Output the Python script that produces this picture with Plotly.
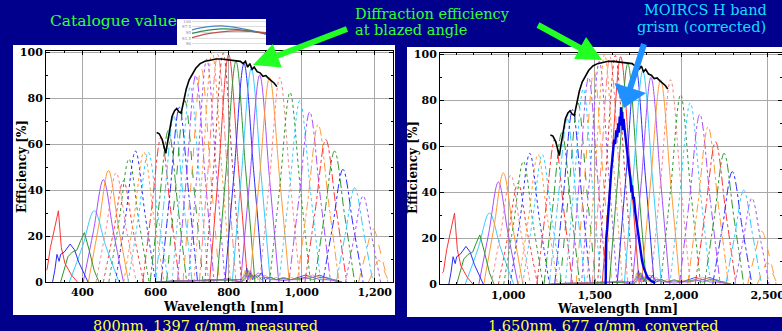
import plotly.graph_objects as go

W, H = 782, 331
NAVY = '#00008c'
FONT = 'DejaVu Serif'

# ---------------- data (left panel wavelengths in nm, efficiency in %) ----------------
RED, BLUE, GREEN, CYAN = '#ff3333', '#2a2aff', '#2e962e', '#33ccff'
PURPLE, ORANGE, PINK, BROWN = '#a64dff', '#ff9933', '#ff8080', '#cc3333'

peak_nm = [432, 457, 471, 492, 512, 527, 545, 568, 580, 615, 635, 650, 665, 680, 695,
           710, 725, 740, 755, 770, 785, 800, 820, 842, 862, 885, 912, 940, 968, 995,
           1022, 1045, 1066, 1090, 1113, 1145, 1168, 1196, 1211]
peak_eff = [31, 44.5, 48.5, 47.5, 44, 53.5, 57, 56.5, 56.5, 63, 66, 72, 76, 79, 85,
            90, 93, 97, 100, 99, 99.5, 99, 96, 95, 93, 90, 89, 89, 82.5, 79,
            74, 68.5, 62, 57, 49, 41, 37.5, 23, 9.5]
hwhm_nm = [32, 27, 27, 27, 27, 27, 27, 27, 27, 26, 26, 26, 26, 26, 26,
           26, 26, 26, 26, 26, 26, 27, 27, 27, 27, 27, 28, 28, 28, 29,
           29, 29, 29, 28, 28, 26, 25, 22, 15]
foot_nm = [68, 55, 55, 55, 55, 55, 55, 55, 55, 50, 50, 50, 50, 50, 50,
           50, 50, 50, 50, 50, 50, 52, 52, 52, 52, 52, 54, 55, 56, 57,
           57, 57, 57, 55, 55, 50, 48, 40, 28]
curve_color = [CYAN, PURPLE, ORANGE, PINK, RED, GREEN, BLUE, ORANGE, CYAN, RED, GREEN, CYAN, BLUE, GREEN, CYAN,
               PURPLE, ORANGE, PURPLE, ORANGE, PINK, BROWN, RED, GREEN, BLUE, CYAN, PURPLE, ORANGE, PINK, GREEN, CYAN,
               PURPLE, ORANGE, RED, GREEN, BLUE, CYAN, PURPLE, ORANGE, ORANGE]
curve_dash = ['solid', 'solid', 'solid', 'dot', 'dot', 'dot', 'dot', 'dot', 'dot', 'dashdot', 'dashdot', 'dashdot', 'dashdot', 'dash', 'dot',
              'dashdot', 'dash', 'dot', 'dot', 'dashdot', 'dot', 'solid', 'solid', 'solid', 'solid', 'solid', 'solid', 'dot', 'dot', 'dot',
              'dashdot', 'dashdot', 'dashdot', 'dashdot', 'dashdot', 'dashdot', 'dot', 'dash', 'dash']

# first three (short wavelength) orders, irregular shapes
red1_nm = [300, 303, 312, 325, 334, 342, 352, 370, 386]
red1_eff = [5, 5.5, 15, 25, 31, 15, 8, 3, 0]
blue1_nm = [318, 324, 330, 336, 340, 350, 366, 378, 390, 405, 415]
blue1_eff = [0, 5, 12, 9, 12, 13, 16.5, 14, 8.5, 3, 0]
green1_nm = [340, 350, 360, 372, 385, 395, 405, 418, 432, 445]
green1_eff = [0, 6, 11, 13, 14, 18, 21.5, 14, 5, 0]

# efficiency at blazed angle (black)
blaze_nm = [603, 610, 618, 624, 628, 632, 638, 645, 652, 658, 664, 670, 676, 684, 692,
            700, 710, 722, 735, 750, 765, 780, 795, 810, 822, 832, 840, 846, 852, 858,
            864, 870, 878, 886, 894, 902, 910, 918, 925, 932]
blaze_eff = [65, 64.5, 62, 57.5, 56, 60, 66, 72, 74.5, 75.5, 74, 73.5, 78, 84, 88,
             90.5, 93, 95, 96, 96.5, 97, 97, 96.8, 96.5, 96.2, 96, 95, 96, 93.5, 95,
             92.5, 93.5, 91.5, 91, 89.5, 89.8, 88.5, 87.5, 86.5, 85]

# low-level noise at the bottom
noise_nm = [600, 650, 700, 750, 800, 835, 845, 850, 855, 860, 865, 870, 880, 890, 900,
            915, 930, 950, 970, 990, 1010, 1030, 1050, 1070, 1090, 1110]
noise_a = [0, 0.5, 0.5, 1, 1, 1, 3, 6, 2, 4, 1, 3, 2, 4, 1, 2, 1, 1.5, 1, 2, 3, 2, 3, 1.5, 1, 0]
noise_b = [0, 0.3, 0.8, 0.6, 1.2, 0, 5, 2, 4, 1, 3, 4, 1, 2, 3, 1, 2, 1, 2, 1, 2, 3, 2, 1, 1, 0]
noise_c = [0, 0.4, 0.4, 0.8, 0.8, 0, 2, 4, 5, 2, 3, 1, 3, 1, 2, 2, 1, 2, 1, 1.5, 2, 1, 2, 2, 0.5, 0]
noise_d = [0, 0.2, 0.6, 0.4, 1.5, 0, 1, 3, 1, 5, 2, 2, 4, 3, 2, 1, 1, 0.5, 1, 1, 1.5, 2, 1, 1, 0.5, 0]
noise_colors = [BLUE, ORANGE, GREEN, PURPLE]

# MOIRCS H band grism (right panel, nm)
moircs_nm = [1563, 1565, 1567, 1572, 1580, 1588, 1596, 1605, 1612, 1618, 1624, 1630, 1636, 1640, 1644,
             1648, 1652, 1655, 1659, 1663, 1667, 1672, 1678, 1687, 1697, 1706, 1712, 1716, 1722, 1726,
             1735, 1745, 1755, 1764, 1774, 1784, 1795, 1805, 1825, 1850]
moircs_eff = [0, 12, 20, 24, 33, 44, 50, 57, 63, 61, 67, 64, 70, 66, 73, 69, 77, 70, 75, 67, 72, 68, 63, 58,
              51, 46, 40, 43, 37, 38, 31, 25, 19, 14, 10, 7, 4.5, 3, 1.5, 0.5]

CONVERT = 1650 / 800  # 800 nm grating converted to 1650 nm

# catalogue thumbnail curves
cat_x = [0, 20, 40, 60, 80, 100]
cat_blue = [96.2, 97.5, 97.9, 97.2, 95.9, 94.2]
cat_green = [94.6, 95.9, 96.6, 96.4, 95.5, 94.5]
cat_red = [92.7, 94.4, 95.3, 95.7, 95.5, 94.9]

# ---------------- figure ----------------
fig = go.Figure()


def add_panel(xa, ya, k):
    for i in range(len(peak_nm)):
        p, hw, fw, h = peak_nm[i], hwhm_nm[i], foot_nm[i], peak_eff[i]
        fig.add_trace(go.Scatter(
            x=[(p - fw) * k, (p - hw) * k, p * k, (p + hw) * k, (p + fw) * k],
            y=[0, h / 2, h, h / 2, 0],
            mode='lines', line=dict(color=curve_color[i], dash=curve_dash[i], width=1,
                                    shape='spline', smoothing=1.0),
            xaxis=xa, yaxis=ya, showlegend=False, hoverinfo='skip'))
    for xs, ys, c in [(red1_nm, red1_eff, RED), (blue1_nm, blue1_eff, BLUE), (green1_nm, green1_eff, GREEN)]:
        fig.add_trace(go.Scatter(x=[v * k for v in xs], y=ys, mode='lines',
                                 line=dict(color=c, width=1), xaxis=xa, yaxis=ya,
                                 showlegend=False, hoverinfo='skip'))
    for ys, c in zip([noise_a, noise_b, noise_c, noise_d], noise_colors):
        fig.add_trace(go.Scatter(x=[v * k for v in noise_nm], y=ys, mode='lines',
                                 line=dict(color=c, width=0.8), xaxis=xa, yaxis=ya,
                                 showlegend=False, hoverinfo='skip'))
    fig.add_trace(go.Scatter(x=[v * k for v in blaze_nm], y=blaze_eff, mode='lines',
                             line=dict(color='black', width=1.6), xaxis=xa, yaxis=ya,
                             showlegend=False, hoverinfo='skip'))


add_panel('x', 'y', 1.0)
add_panel('x2', 'y2', CONVERT)
fig.add_trace(go.Scatter(x=moircs_nm, y=moircs_eff, mode='lines',
                         line=dict(color='#0000e6', width=2.4), xaxis='x2', yaxis='y2',
                         showlegend=False, hoverinfo='skip'))

for ys, c in [(cat_blue, '#4a86c8'), (cat_green, '#2e8b57'), (cat_red, '#c0504d')]:
    fig.add_trace(go.Scatter(x=cat_x, y=ys, mode='lines', line=dict(color=c, width=1.3, shape='spline'),
                             xaxis='x3', yaxis='y3', showlegend=False, hoverinfo='skip'))


def px(x):
    return x / W


def py(y):
    return 1 - y / H


tickfont = dict(family=FONT, size=11, color='black', weight='bold')
common_x = dict(showline=True, linecolor='black', linewidth=1, mirror='ticks', ticks='inside',
                ticklen=4, tickcolor='black', showgrid=True, gridcolor='#a8a8a8', gridwidth=1,
                zeroline=False, tickfont=tickfont, tickformat=',', automargin=False,
                ticklabeloverflow='allow')
common_y = dict(common_x, range=[0, 100.5], dtick=20,
                minor=dict(ticks='inside', ticklen=2, dtick=10, tickcolor='black'))

layout = dict(
    width=W, height=H, margin=dict(l=0, r=0, t=0, b=0, pad=0), autosize=False,
    font=dict(family=FONT),
    paper_bgcolor=NAVY, plot_bgcolor='white', showlegend=False,
    xaxis=dict(common_x, domain=[px(46), px(393)], range=[300, 1250], dtick=200,
               minor=dict(ticks='inside', ticklen=2, dtick=50, tickcolor='black'), anchor='y'),
    yaxis=dict(common_y, domain=[py(282), py(51)], anchor='x'),
    xaxis2=dict(common_x, domain=[px(440), 1.0], range=[605, 2583], dtick=500,
                minor=dict(ticks='inside', ticklen=2, dtick=100, tickcolor='black'), anchor='y2'),
    yaxis2=dict(common_y, domain=[py(284.3), py(53.3)], anchor='x2'),
    xaxis3=dict(domain=[px(192), px(266)], range=[0, 100], showgrid=False, showticklabels=False,
                zeroline=False, anchor='y3', automargin=False),
    yaxis3=dict(domain=[py(46), py(19)], range=[89, 101], dtick=2.5, gridcolor='#dddddd',
                gridwidth=0.6, zeroline=False, tickfont=dict(size=4, color='#888888'),
                ticks='', anchor='x3', automargin=False),
)
fig.update_layout(**layout)

shapes = [
    dict(type='rect', xref='paper', yref='paper', x0=px(13), x1=px(395), y0=py(315), y1=py(45),
         fillcolor='white', line=dict(width=0), layer='below'),
    dict(type='rect', xref='paper', yref='paper', x0=px(407), x1=px(782), y0=py(317), y1=py(47),
         fillcolor='white', line=dict(width=0), layer='below'),
    dict(type='rect', xref='paper', yref='paper', x0=px(177), x1=px(266), y0=py(46), y1=py(19),
         fillcolor='white', line=dict(width=0), layer='below'),
]


def arrow(x0, y0, x1, y1, head_len, head_half, shaft_half, color):
    dx, dy = x1 - x0, y1 - y0
    L = (dx * dx + dy * dy) ** 0.5
    ux, uy = dx / L, dy / L
    nx, ny = -uy, ux
    bx, by = x1 - head_len * ux, y1 - head_len * uy
    pts = [(x0 + shaft_half * nx, y0 + shaft_half * ny),
           (bx + shaft_half * nx, by + shaft_half * ny),
           (bx + head_half * nx, by + head_half * ny),
           (x1, y1),
           (bx - head_half * nx, by - head_half * ny),
           (bx - shaft_half * nx, by - shaft_half * ny),
           (x0 - shaft_half * nx, y0 - shaft_half * ny)]
    path = 'M ' + ' L '.join(f'{px(a):.5f},{py(b):.5f}' for a, b in pts) + ' Z'
    return dict(type='path', xref='paper', yref='paper', path=path, fillcolor=color,
                line=dict(width=0), layer='above')


shapes.append(arrow(347, 29, 253, 65, 26, 12.5, 3, '#22ff22'))
shapes.append(arrow(538, 25, 602, 60, 25, 12.5, 3, '#22ff22'))
shapes.append(arrow(644, 44, 624, 108, 21, 16.5, 3, '#1e90ff'))
fig.update_layout(shapes=shapes)

ann = []


def text(t, x, y, size, color, xanchor='center', bold=False, angle=0):
    ann.append(dict(text=t, x=px(x), y=py(y), xref='paper', yref='paper', showarrow=False,
                    xanchor=xanchor, yanchor='middle', textangle=angle,
                    font=dict(family=FONT, size=size, color=color, weight='bold' if bold else 'normal')))


text('Catalogue value', 48, 21, 15.5, '#33ff33', xanchor='left')
text('Diffraction efficiency', 353, 14, 14.5, '#33ff33', xanchor='left')
text('at blazed angle', 353, 30, 14.5, '#33ff33', xanchor='left')
text('MOIRCS H band', 705, 10, 14.5, '#11ddff')
text('grism (corrected)', 701, 27, 14.5, '#11ddff')
text('800nm, 1397 g/mm, measured', 206, 326, 14.5, '#ffff33')
text('1,650nm, 677 g/mm, converted', 603, 326, 14.5, '#ffff33')
text('Efficiency [%]', 22, 167, 12, 'black', bold=True, angle=-90)
text('Efficiency [%]', 413, 168, 12, 'black', bold=True, angle=-90)
text('Wavelength [nm]', 223, 306, 12.5, 'black', bold=True)
text('Wavelength [nm]', 617, 308, 12.5, 'black', bold=True)
fig.update_layout(annotations=ann)

fig.write_html('out.html', config={'responsive': False, 'displayModeBar': False},
               post_script="document.body.style.margin='0';document.body.style.padding='0';"
                           "document.body.style.overflow='hidden';")
